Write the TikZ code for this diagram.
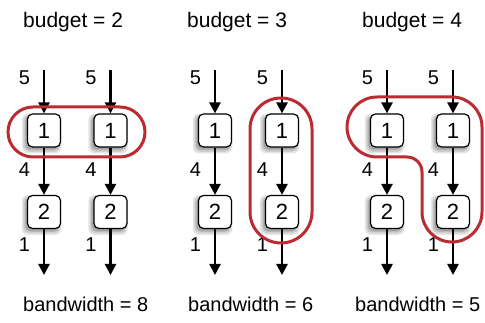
\documentclass[tikz,border=0pt]{standalone}
\usepackage{fontspec}
\setmainfont{Liberation Sans}
\usetikzlibrary{arrows.meta,shadows}
\definecolor{cutred}{RGB}{186,44,50}
\begin{document}
\begin{tikzpicture}[x=10pt,y=10pt,
  haze/.style={general shadow={fill=black,shadow xshift=-2pt,shadow yshift=-2.5pt,shadow scale=#1,opacity=0.1}},
  box/.style={draw,line width=1.2pt,rounded corners=5pt,fill=white,minimum size=33pt,inner sep=0pt,
    font=\fontsize{22}{24}\selectfont,haze=1.2,haze=1.12,haze=1.05,haze=1.0},
  flow/.style={line width=2.4pt,-{Triangle[length=11pt,width=11pt]}},
  cut/.style={draw=cutred,line width=3pt},
  lbl/.style={anchor=base,inner sep=0pt,font=\fontsize{20}{22}\selectfont},
  heading/.style={anchor=base west,inner sep=0pt,font=\fontsize{21}{24}\selectfont}]
\useasboundingbox (0,0) rectangle (48.5,32.3);
% titles
\node[heading] (bud2) at (2.3,29.5) {budget = 2};
\node[heading] (bud3) at (18.7,29.5) {budget = 3};
\node[heading] (bud4) at (36.2,29.5) {budget = 4};
% columns of nodes
\foreach \c/\x in {a/4.4,b/11.05,c/21.5,d/28.2,e/38.7,f/45.3}{
  \coordinate (top\c) at (\x,25.3);
  \node[box] (one\c) at (\x,19.25) {1};
  \node[box] (two\c) at (\x,11.1) {2};
  \coordinate (bot\c) at (\x,4.8);
  \draw[flow] (top\c) -- (one\c);
  \draw[flow] (one\c) -- (two\c);
  \draw[flow] (two\c) -- (bot\c);
  \node[lbl] (lfive\c) at (\x-1.95,23.8) {5};
  \node[lbl] (lfour\c) at (\x-1.95,14.6) {4};
  \node[lbl] (lone\c) at (\x-1.95,7.1) {1};
}
% cuts
\draw[cut,rounded corners=25pt] (0.8,16.6) rectangle (14.5,21.6);
\draw[cut,rounded corners=31pt] (25.0,8.0) rectangle (31.2,22.5);
\draw[cut] (37.7,22.6) -- (45.2,22.6) arc[start angle=90,end angle=0,radius=3]
  -- (48.2,11.1) arc[start angle=0,end angle=-180,radius=3]
  -- (42.2,15.1) arc[start angle=0,end angle=90,radius=1.5]
  -- (37.7,16.6) arc[start angle=270,end angle=90,radius=3] -- cycle;
% bandwidths
\node[heading,font=\fontsize{20}{24}\selectfont] (bw8) at (2.3,1.1) {bandwidth = 8};
\node[heading,font=\fontsize{20}{24}\selectfont] (bw6) at (18.8,1.1) {bandwidth = 6};
\node[heading,font=\fontsize{20}{24}\selectfont] (bw5) at (35.5,1.1) {bandwidth = 5};
\end{tikzpicture}
\end{document}
